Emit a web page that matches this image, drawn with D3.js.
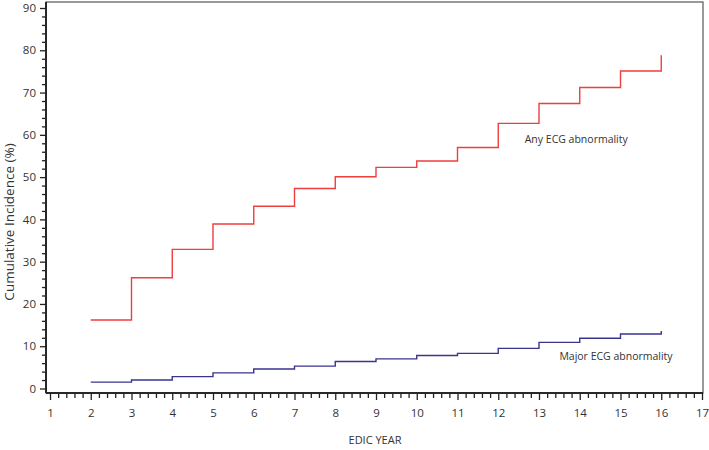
<!DOCTYPE html>
<html>
<head>
<meta charset="utf-8">
<script src="https://cdn.jsdelivr.net/npm/d3@7"></script>
<style>
  html, body { margin: 0; padding: 0; background: #fff; }
  svg { display: block; }
  text { font-family: "Open Sans", "Noto Sans", sans-serif; fill: #333; }
</style>
</head>
<body>
<svg id="chart" width="709" height="450"></svg>
<script>
// ---- data ----
const years = [2, 3, 4, 5, 6, 7, 8, 9, 10, 11, 12, 13, 14, 15, 16];
const anyECG = [16.2, 26.2, 32.9, 38.9, 43.1, 47.3, 50.1, 52.3, 53.8, 57.0, 62.7, 67.4, 71.2, 75.1, 78.8];
const majorECG = [1.5, 2.0, 2.8, 3.7, 4.6, 5.3, 6.4, 7.0, 7.8, 8.3, 9.5, 10.9, 11.9, 12.9, 13.6];
const xTicks = [1, 2, 3, 4, 5, 6, 7, 8, 9, 10, 11, 12, 13, 14, 15, 16, 17];
const yTicks = [0, 10, 20, 30, 40, 50, 60, 70, 80, 90];
const seriesLabels = ["Any ECG abnormality", "Major ECG abnormality"];
const xTitle = "EDIC YEAR";
const yTitle = "Cumulative Incidence (%)";

// ---- layout ----
const svg = d3.select("#chart");
const frame = { left: 46, right: 703, top: 2, bottom: 393 };
const x = d3.scaleLinear().domain([1, 17]).range([50, 702]);
const y = d3.scaleLinear().domain([0, 90]).range([388.5, 8]);

// frame
svg.append("rect")
  .attr("x", frame.left).attr("y", frame.top)
  .attr("width", frame.right - frame.left).attr("height", frame.bottom - frame.top)
  .attr("fill", "none").attr("stroke", "#555").attr("stroke-width", 1.2);

// minor tick values
const xMinor = d3.range(1, 17.001, 0.2).filter(v => Math.abs(v - Math.round(v)) > 1e-6);
const yMinor = d3.range(0, 90.001, 2).filter(v => v % 10 !== 0);

// x axis
const gx = svg.append("g").attr("transform", `translate(0,${frame.bottom})`);
gx.call(d3.axisBottom(x).tickValues(xTicks).tickSize(7).tickPadding(9).tickFormat(d3.format("d")));
gx.append("g").call(d3.axisBottom(x).tickValues(xMinor).tickSize(5).tickFormat(""));
// y axis
const gy = svg.append("g").attr("transform", `translate(${frame.left},0)`);
gy.call(d3.axisLeft(y).tickValues(yTicks).tickSize(6).tickPadding(4).tickFormat(d3.format("d")));
gy.append("g").call(d3.axisLeft(y).tickValues(yMinor).tickSize(4).tickFormat(""));

svg.selectAll(".domain").attr("stroke", "#222").attr("stroke-width", 1.5);
svg.selectAll(".tick line").attr("stroke", "#222").attr("stroke-width", 1.3);
svg.selectAll(".tick text").style("font-size", "11.5px").attr("fill", "#333");
gx.selectAll(".domain").attr("d", `M${frame.left},0H${frame.right}`);
gy.selectAll(".domain").attr("d", `M0,${frame.top}V${frame.bottom}`);

// step lines
const line = d3.line()
  .x(d => x(d[0]))
  .y(d => y(d[1]))
  .curve(d3.curveStepAfter);

svg.append("path")
  .datum(years.map((yr, i) => [yr, anyECG[i]]))
  .attr("d", line)
  .attr("fill", "none").attr("stroke", "#ef3e3e").attr("stroke-width", 1.4);

svg.append("path")
  .datum(years.map((yr, i) => [yr, majorECG[i]]))
  .attr("d", line)
  .attr("fill", "none").attr("stroke", "#3a3490").attr("stroke-width", 1.4);

// series labels
svg.append("text").attr("x", x(12.65)).attr("y", y(58.7))
  .attr("dominant-baseline", "middle")
  .style("font-size", "10.5px").text(seriesLabels[0]);
svg.append("text").attr("x", x(13.5)).attr("y", y(7.5))
  .attr("dominant-baseline", "middle")
  .style("font-size", "10.5px").text(seriesLabels[1]);

// axis titles
svg.append("text").attr("x", 375).attr("y", 441)
  .attr("text-anchor", "middle").attr("dominant-baseline", "middle")
  .style("font-size", "11px").text(xTitle);
svg.append("text")
  .attr("transform", "translate(10,222) rotate(-90)")
  .attr("text-anchor", "middle").attr("dominant-baseline", "middle")
  .style("font-size", "13.5px").text(yTitle);
</script>
</body>
</html>
